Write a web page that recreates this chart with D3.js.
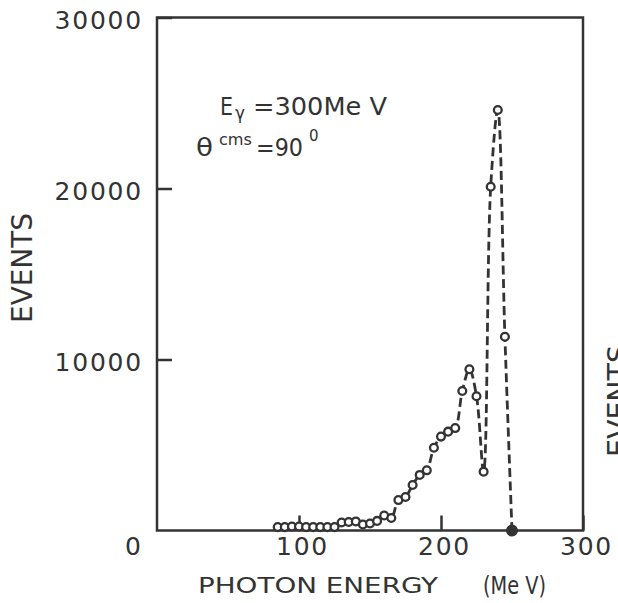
<!DOCTYPE html>
<html>
<head>
<meta charset="utf-8">
<script src="https://cdn.jsdelivr.net/npm/d3@7"></script>
<style>
  html, body { margin: 0; padding: 0; background: #fff; }
  svg { display: block; }
  text { font-family: "DejaVu Sans", sans-serif; fill: #333; }
</style>
</head>
<body>
<svg id="chart" width="618" height="603"></svg>
<script>
// Photon energy (MeV) of each measured point
const energies = [85, 90, 95, 100, 105, 110, 115, 120, 125, 130, 135, 140, 145, 150, 155, 160, 165, 170,
                  175, 180, 185, 190, 195, 200, 205, 210, 215, 220, 225, 230, 235, 240, 245, 250];
// Events counted at each energy
const events = [200, 200, 230, 230, 200, 200, 200, 200, 200, 470, 500, 530, 350, 410, 560, 880, 730, 1780,
                1960, 2660, 3250, 3520, 4840, 5490, 5780, 5990, 8160, 9430, 7850, 3440, 20100, 24590, 11330, 0];
const xTickValues = [100, 200, 300];
const yTickValues = [10000, 20000, 30000];
const xTitle = "PHOTON ENERGY";
const xUnit = "(Me V)";
const yTitle = "EVENTS";

const data = energies.map((e, i) => ({ e, n: events[i], filled: i === energies.length - 1 }));

const svg = d3.select("#chart");
const ink = "#333";

const x = d3.scaleLinear().domain([0, 300]).range([157, 583]);
const y = d3.scaleLinear().domain([0, 30000]).range([530.5, 17.5]);

// frame
svg.append("rect")
  .attr("x", x(0)).attr("y", y(30000))
  .attr("width", x(300) - x(0)).attr("height", y(0) - y(30000))
  .attr("fill", "none").attr("stroke", ink).attr("stroke-width", 2.5);

// y axis
const yAxis = svg.append("g").attr("transform", `translate(${x(0)},0)`)
  .call(d3.axisLeft(y).tickValues(yTickValues).tickSize(-15).tickPadding(14).tickFormat(d3.format("d")));
yAxis.select(".domain").remove();
yAxis.selectAll("line").attr("stroke", ink).attr("stroke-width", 2.5);
yAxis.selectAll("text").attr("font-size", 25).attr("letter-spacing", 1.8)
  .attr("font-family", "DejaVu Sans").attr("fill", ink).attr("dy", "0.45em");

// x axis
const xAxis = svg.append("g").attr("transform", `translate(0,${y(0)})`)
  .call(d3.axisBottom(x).tickValues(xTickValues).tickSize(-15).tickPadding(7).tickFormat(d3.format("d")));
xAxis.select(".domain").remove();
xAxis.selectAll("line").attr("stroke", ink).attr("stroke-width", 2.5);
xAxis.selectAll("text").attr("font-size", 25).attr("letter-spacing", 1.8)
  .attr("font-family", "DejaVu Sans").attr("fill", ink)
  .attr("dx", 3);

// shared corner zero
svg.append("text").attr("x", 133).attr("y", 555).attr("text-anchor", "middle")
  .attr("font-size", 25).text("0");

// axis titles
svg.append("text").attr("x", 198).attr("y", 593).attr("font-size", 22)
  .attr("textLength", 240).attr("lengthAdjust", "spacingAndGlyphs").text(xTitle);
svg.append("text").attr("x", 483).attr("y", 594).attr("font-size", 24)
  .attr("textLength", 63).attr("lengthAdjust", "spacingAndGlyphs").text(xUnit);

svg.append("text").attr("transform", "translate(32,268) rotate(-90)")
  .attr("text-anchor", "middle").attr("font-size", 29)
  .attr("textLength", 110).attr("lengthAdjust", "spacingAndGlyphs").text(yTitle);
// neighbouring panel's label, clipped at the page edge
svg.append("text").attr("transform", "translate(628,401) rotate(-90)")
  .attr("text-anchor", "middle").attr("font-size", 29)
  .attr("textLength", 112).attr("lengthAdjust", "spacingAndGlyphs").text(yTitle);

// annotations (one text element per line)
const l1 = svg.append("text").attr("y", 115).attr("font-size", 25);
l1.append("tspan").attr("x", 220).attr("textLength", 13).attr("lengthAdjust", "spacingAndGlyphs").text("E");
l1.append("tspan").attr("x", 235).attr("dy", 4).attr("font-size", 18)
  .attr("textLength", 10).attr("lengthAdjust", "spacingAndGlyphs").text("γ");
l1.append("tspan").attr("x", 253).attr("dy", -4)
  .attr("textLength", 134).attr("lengthAdjust", "spacingAndGlyphs").text("=300Me V");

const l2 = svg.append("text").attr("y", 156).attr("font-size", 25);
l2.append("tspan").attr("x", 196).attr("textLength", 17).attr("lengthAdjust", "spacingAndGlyphs").text("θ");
l2.append("tspan").attr("x", 219).attr("dy", -11).attr("font-size", 15)
  .attr("textLength", 33).attr("lengthAdjust", "spacingAndGlyphs").text("cms");
l2.append("tspan").attr("x", 256).attr("dy", 11)
  .attr("textLength", 47).attr("lengthAdjust", "spacingAndGlyphs").text("=90");
l2.append("tspan").attr("x", 309).attr("dy", -15).attr("font-size", 15).text("0");

// dashed curve
const line = d3.line().x(d => x(d.e)).y(d => y(d.n)).curve(d3.curveCatmullRom.alpha(0.5));
svg.append("path").datum(data)
  .attr("d", line)
  .attr("fill", "none").attr("stroke", ink).attr("stroke-width", 2.8)
  .attr("stroke-dasharray", "9,4.5");

// points
svg.append("g").selectAll("circle").data(data).join("circle")
  .attr("cx", d => x(d.e)).attr("cy", d => y(d.n))
  .attr("r", d => d.filled ? 4.8 : 3.9)
  .attr("fill", d => d.filled ? ink : "#fff")
  .attr("stroke", ink).attr("stroke-width", 2.3);
</script>
</body>
</html>
